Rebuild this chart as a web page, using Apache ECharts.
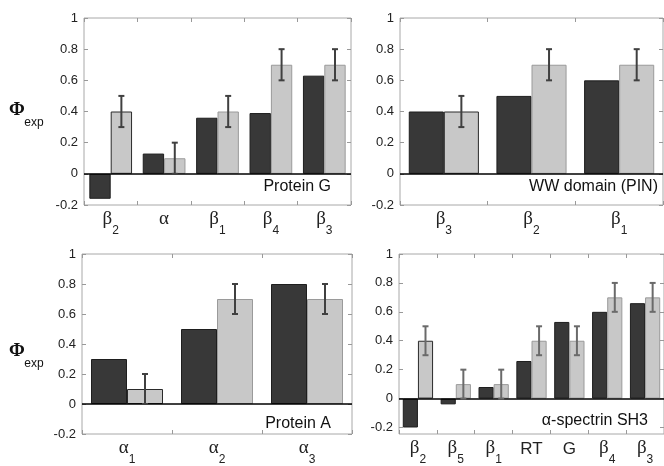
<!DOCTYPE html>
<html><head><meta charset="utf-8">
<script src="https://cdn.jsdelivr.net/npm/echarts@6/dist/echarts.min.js"></script>
<style>html,body{margin:0;padding:0;background:#fff}#c{width:664px;height:466px}</style>
</head><body><div id="c"></div>
<script>
// ---- data ----
const catsG = ['β2','α','β1','β4','β3'];
const darkG = [-0.16, 0.13, 0.36, 0.39, 0.63];
const lightG = [0.40, 0.10, 0.40, 0.70, 0.70];
const errG = [0.1, 0.1, 0.1, 0.1, 0.1];

const catsWW = ['β3','β2','β1'];
const darkWW = [0.40, 0.50, 0.60];
const lightWW = [0.40, 0.70, 0.70];
const errWW = [0.1, 0.1, 0.1];

const catsA = ['α1','α2','α3'];
const darkA = [0.30, 0.50, 0.80];
const lightA = [0.10, 0.70, 0.70];
const errA = [0.1, 0.1, 0.1];

const catsSH3 = ['β2','β5','β1','RT','G','β4','β3'];
const darkSH3 = [-0.20, -0.04, 0.08, 0.26, 0.53, 0.60, 0.66];
const lightSH3 = [0.40, 0.10, 0.10, 0.40, 0.40, 0.70, 0.70];
const errSH3 = [0.1, 0.1, 0.1, 0.1, 0.1, 0.1, 0.1];

const yTicks = [-0.2, 0, 0.2, 0.4, 0.6, 0.8, 1];
const panelNames = ['Protein G', 'WW domain (PIN)', 'Protein A', 'α-spectrin SH3'];

// ---- layout ----
const grids = [
  {left: 84, top: 18, width: 267, height: 187},
  {left: 400, top: 18, width: 263, height: 187},
  {left: 82, top: 254, width: 270, height: 187},
  {left: 399, top: 254, width: 265, height: 185}
];
const panels = [
  {cats: catsG, dark: darkG, light: lightG, err: errG, min: -0.2, errColor: '#404040'},
  {cats: catsWW, dark: darkWW, light: lightWW, err: errWW, min: -0.2, errColor: '#404040'},
  {cats: catsA, dark: darkA, light: lightA, err: errA, min: -0.2, errColor: '#404040'},
  {cats: catsSH3, dark: darkSH3, light: lightSH3, err: errSH3, min: -0.245, errColor: '#6a6a6a'}
];

const sans = 'Liberation Sans, Arial, sans-serif';
function catFmt(v) {
  const c = v.charAt(0);
  if (c === 'β' || c === 'α') {
    return '{g|' + c + '}' + (v.length > 1 ? '{s|' + v.slice(1) + '}' : '');
  }
  return '{n|' + v + '}';
}

const option = {
  animation: false,
  backgroundColor: '#fff',
  grid: grids.map(g => Object.assign({show: true, borderColor: '#a8a8a8', borderWidth: 1, containLabel: false}, g)),
  xAxis: [], yAxis: [], series: [],
  graphic: []
};

panels.forEach((p, i) => {
  const xb = option.xAxis.length;
  option.xAxis.push({
    type: 'category', gridIndex: i, data: p.cats, position: 'bottom',
    axisLine: {show: false, onZero: false},
    axisTick: {show: true, inside: true, length: 4, interval: 0, lineStyle: {color: '#999'}},
    axisLabel: {
      margin: 5, interval: 0, formatter: catFmt, color: '#222',
      rich: {
        g: {fontFamily: 'Liberation Serif, serif', fontSize: 19, color: '#222', verticalAlign: 'top', lineHeight: 20},
        s: {fontFamily: sans, fontSize: 12, color: '#222', verticalAlign: 'bottom', lineHeight: 27},
        n: {fontFamily: sans, fontSize: 17, color: '#222', verticalAlign: 'top', lineHeight: 24, padding: [2, 0, 0, 0]}
      }
    }
  });
  option.xAxis.push({
    type: 'category', gridIndex: i, data: p.cats, position: 'top',
    axisLine: {show: false, onZero: false},
    axisTick: {show: true, inside: true, length: 4, interval: 0, lineStyle: {color: '#999'}},
    axisLabel: {show: false, interval: 0}
  });
  const yb = option.yAxis.length;
  const vals = yTicks.filter(v => v > p.min - 1e-9);
  const yCommon = {
    type: 'value', gridIndex: i, min: p.min, max: 1,
    splitLine: {show: false},
    axisLine: {show: false, onZero: false}
  };
  option.yAxis.push(Object.assign({}, yCommon, {
    position: 'left',
    axisTick: {show: true, inside: true, length: 4, lineStyle: {color: '#999'}, customValues: vals},
    axisLabel: {margin: 6, color: '#222', fontFamily: sans, fontSize: 13, customValues: vals}
  }));
  option.yAxis.push(Object.assign({}, yCommon, {
    position: 'right',
    axisTick: {show: true, inside: true, length: 4, lineStyle: {color: '#999'}, customValues: vals},
    axisLabel: {show: false, customValues: vals}
  }));

  option.series.push({
    type: 'bar', xAxisIndex: xb, yAxisIndex: yb,
    data: p.dark, barGap: '0%', barCategoryGap: '20%',
    itemStyle: {color: '#383838', borderColor: '#1e1e1e', borderWidth: 1},
    markLine: {
      silent: true, symbol: ['none', 'none'], label: {show: false},
      lineStyle: {color: '#000', width: 1.5, type: 'solid'},
      data: [{yAxis: 0}], z: 5
    }
  });
  option.series.push({
    type: 'bar', xAxisIndex: xb, yAxisIndex: yb,
    data: p.light.map((v, k) => ({value: v, itemStyle: {borderColor: k === 0 ? '#2a2a2a' : '#9a9a9a'}})),
    barGap: '0%', barCategoryGap: '20%',
    itemStyle: {color: '#c8c8c8', borderColor: '#9a9a9a', borderWidth: 1}
  });
  const ec = p.errColor;
  option.series.push({
    type: 'custom', xAxisIndex: xb, yAxisIndex: yb, z: 10,
    data: p.light.map((v, k) => [k, v, p.err[k]]),
    encode: {x: 0, y: 1},
    renderItem: function (params, api) {
      const k = api.value(0), v = api.value(1), e = api.value(2);
      const c = api.coord([k, v]);
      const w = api.size([1, 0])[0];
      const x = c[0] + w * 0.2;
      const yt = api.coord([k, v + e])[1];
      const ybt = api.coord([k, v - e])[1];
      const cw = 3;
      const st = {stroke: ec, lineWidth: 2};
      return {type: 'group', children: [
        {type: 'line', shape: {x1: x, y1: yt, x2: x, y2: ybt}, style: st},
        {type: 'line', shape: {x1: x - cw, y1: yt, x2: x + cw, y2: yt}, style: st},
        {type: 'line', shape: {x1: x - cw, y1: ybt, x2: x + cw, y2: ybt}, style: st}
      ]};
    }
  });
});

// panel labels
const labelPos = [
  {right: 331, y: 187}, {right: 658, y: 187}, {right: 331, y: 424}, {right: 648, y: 421}
];
panelNames.forEach((n, i) => {
  option.graphic.push({
    type: 'text', z: 20, x: labelPos[i].right, y: labelPos[i].y,
    style: {text: n, fontFamily: sans, fontSize: 16, fill: '#111', align: 'right', verticalAlign: 'middle'}
  });
});
// y-axis titles
[{y: 110}, {y: 351}].forEach(o => {
  option.graphic.push({
    type: 'text', x: 17, y: o.y,
    style: {text: 'Φ', fontFamily: 'Liberation Serif, serif', fontSize: 19, fontWeight: 'bold', fill: '#111', align: 'center', verticalAlign: 'middle'}
  });
  option.graphic.push({
    type: 'text', x: 34, y: o.y + 13,
    style: {text: 'exp', fontFamily: sans, fontSize: 12, fill: '#111', align: 'center', verticalAlign: 'middle'}
  });
});

const chart = echarts.init(document.getElementById('c'), null, {renderer: 'canvas'});
chart.setOption(option);
</script>
</body></html>
